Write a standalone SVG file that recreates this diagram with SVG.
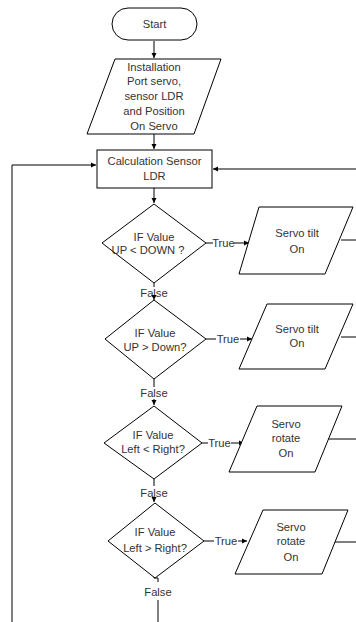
<svg xmlns="http://www.w3.org/2000/svg" width="356" height="622" viewBox="0 0 356 622">
<defs>
<marker id="ah" markerWidth="6" markerHeight="6" refX="5" refY="3" orient="auto" markerUnits="userSpaceOnUse">
<path d="M0,0.5 L5,3 L0,5.5 Z" fill="#000"/>
</marker>
<style>
.s{fill:#fff;stroke:#000;stroke-width:1}
.c{fill:none;stroke:#000;stroke-width:1}
.t{font-family:"Liberation Sans",Arial,sans-serif;font-size:11.2px;fill:#333;text-anchor:middle}
</style>
</defs>
<rect width="356" height="622" fill="#fff"/>
<g id="connectors">
<path class="c" d="M154,41 V58" marker-end="url(#ah)"/>
<path class="c" d="M154,134 V149" marker-end="url(#ah)"/>
<path class="c" d="M154,188 V203" marker-end="url(#ah)"/>
<path class="c" d="M12,622 V165 H96" marker-end="url(#ah)"/>
<path class="c" d="M356,169 H213" marker-end="url(#ah)"/>
<path class="c" d="M206,243 H213"/>
<path class="c" d="M234,243 H249" marker-end="url(#ah)"/>
<text class="t" x="223.5" y="247">True</text>
<path class="c" d="M154,283 V287"/>
<text class="t" x="154" y="297">False</text>
<path class="c" d="M154,299 V300" marker-end="url(#ah)"/>
<path class="c" d="M341,240 H356"/>
<path class="c" d="M206,339 H216"/>
<path class="c" d="M240,339 H252" marker-end="url(#ah)"/>
<text class="t" x="228" y="343">True</text>
<path class="c" d="M341,337 H356"/>
<path class="c" d="M154,379 V387"/>
<text class="t" x="154" y="397">False</text>
<path class="c" d="M154,399 V405" marker-end="url(#ah)"/>
<path class="c" d="M202,443 H208"/>
<path class="c" d="M231,443 H244" marker-end="url(#ah)"/>
<text class="t" x="219.5" y="447">True</text>
<path class="c" d="M327,439 H356"/>
<path class="c" d="M154,479 V486"/>
<text class="t" x="154" y="497">False</text>
<path class="c" d="M154,499 V502" marker-end="url(#ah)"/>
<path class="c" d="M204,541 H214"/>
<path class="c" d="M238,541 H247" marker-end="url(#ah)"/>
<text class="t" x="226" y="545">True</text>
<path class="c" d="M333,542 H356"/>
<path class="c" d="M154,567 V578 H158 V582"/>
<text class="t" x="158" y="596">False</text>
<path class="c" d="M158,600 V622"/>
</g>
<g id="start">
<rect class="s" x="112" y="8" width="85" height="32" rx="16"/>
<text class="t" x="154.5" y="28">Start</text>
</g>
<g id="init">
<polygon class="s" points="115,59 221,59 194,134 87,134"/>
<text class="t" x="154" y="71">Installation</text>
<text class="t" x="154" y="85">Port servo,</text>
<text class="t" x="154" y="100">sensor LDR</text>
<text class="t" x="154" y="115">and Position</text>
<text class="t" x="154" y="130">On Servo</text>
</g>
<g id="calc">
<rect class="s" x="97" y="150" width="115" height="38"/>
<text class="t" x="154.5" y="165">Calculation Sensor</text>
<text class="t" x="154.5" y="180">LDR</text>
</g>
<g id="d1">
<polygon class="s" points="154,204 206,243 154,283 102,243"/>
<text class="t" x="154" y="241">IF Value</text>
<text class="t" x="148" y="254">UP &lt; DOWN ?</text>
</g>
<g id="p1">
<polygon class="s" points="259,207 353,207 325,274 239,274"/>
<text class="t" x="297" y="237">Servo tilt</text>
<text class="t" x="297" y="253">On</text>
</g>
<g id="d2">
<polygon class="s" points="154,300 206,339 154,379 105,339"/>
<text class="t" x="155" y="337">IF Value</text>
<text class="t" x="155" y="351">UP &gt; Down?</text>
</g>
<g id="p2">
<polygon class="s" points="267,304 353,304 325,369 239,369"/>
<text class="t" x="297" y="333">Servo tilt</text>
<text class="t" x="297" y="347">On</text>
</g>
<g id="d3">
<polygon class="s" points="154,406 202,443 154,479 104,443"/>
<text class="t" x="153" y="439">IF Value</text>
<text class="t" x="153" y="453">Left &lt; Right?</text>
</g>
<g id="p3">
<polygon class="s" points="257,406 342,406 315,472 229,472"/>
<text class="t" x="286" y="428">Servo</text>
<text class="t" x="286" y="442">rotate</text>
<text class="t" x="286" y="457">On</text>
</g>
<g id="d4">
<polygon class="s" points="155,503 204,541 155,578 108,541"/>
<text class="t" x="155" y="536">IF Value</text>
<text class="t" x="155" y="552">Left &gt; Right?</text>
</g>
<g id="p4">
<polygon class="s" points="263,510 348,510 322,574 235,574"/>
<text class="t" x="291" y="531">Servo</text>
<text class="t" x="291" y="545">rotate</text>
<text class="t" x="291" y="561">On</text>
</g>
</svg>
